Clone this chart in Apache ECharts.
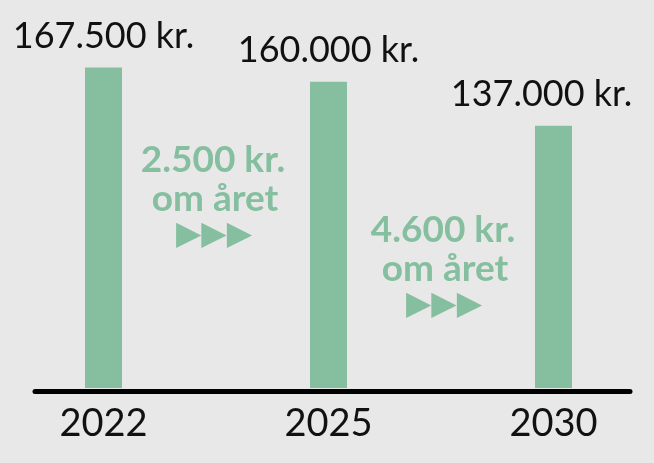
<!DOCTYPE html>
<html>
<head>
<meta charset="utf-8">
<script src="https://cdn.jsdelivr.net/npm/echarts@6/dist/echarts.min.js"></script>
<style>
  html, body { margin: 0; padding: 0; background: #e8e8e8; }
  #chart { width: 654px; height: 463px; }
</style>
</head>
<body>
<div id="chart"></div>
<script>
// data
var years = ['2022', '2025', '2030'];
var prices = [167500, 160000, 137000];
var perYear = [2500, 4600];          // fald pr. år mellem søjlerne
var perYearText = 'om året';

var green = '#85bfa0';

function kr(v) {
    return String(v).replace(/\B(?=(\d{3})+(?!\d))/g, '.') + ' kr.';
}

// sidste label skubbes lidt til venstre så den ikke ryger ud af billedet
var labelShift = [0, 0, -12];

var barData = prices.map(function (v, i) {
    return { value: v, label: { offset: [labelShift[i], 0] } };
});

// annoteringer mellem søjlerne
var notePos = [[213, 160], [443, 230]];
var graphics = [];
perYear.forEach(function (v, i) {
    var x = notePos[i][0], y = notePos[i][1];
    graphics.push({
        type: 'text', x: x, y: y,
        style: { text: kr(v), fill: green, font: 'bold 37px Lato',
                 textAlign: 'center', textVerticalAlign: 'middle' }
    });
    graphics.push({
        type: 'text', x: x + 2, y: y + 39,
        style: { text: perYearText, fill: green, font: 'bold 37px Lato',
                 textAlign: 'center', textVerticalAlign: 'middle' }
    });
    graphics.push({
        type: 'text', x: x + 1, y: y + 75,
        style: { text: '▶▶▶', fill: green, font: '33px "DejaVu Sans"',
                 textAlign: 'center', textVerticalAlign: 'middle' }
    });
});

var option = {
    backgroundColor: '#e8e8e8',
    animation: false,
    grid: [
        { left: -9, width: 675, top: 5.3, bottom: 75, containLabel: false, outerBoundsMode: 'none' },
        { left: 35, right: 24, top: 390, height: 1, outerBoundsMode: 'none' }   // kun til den sorte baseline
    ],
    xAxis: [
        {
            type: 'category',
            data: years,
            axisLine: { show: false },
            axisTick: { show: false },
            axisLabel: { color: '#111', fontFamily: 'Lato', fontSize: 38, margin: 17 }
        },
        {
            gridIndex: 1, type: 'value', min: 0, max: 1,
            axisLine: { show: true, lineStyle: { color: '#000', width: 5 } },
            axisTick: { show: false }, axisLabel: { show: false }, splitLine: { show: false }
        }
    ],
    yAxis: [
        { type: 'value', min: 0, max: 200000, show: false },
        { gridIndex: 1, type: 'value', show: false }
    ],
    series: [{
        type: 'bar',
        data: barData,
        barWidth: 37,
        itemStyle: { color: green },
        label: {
            show: true,
            position: 'top',
            distance: 13,
            color: '#111',
            fontFamily: 'Lato',
            fontSize: 36,
            formatter: function (p) { return kr(p.value); }
        }
    }],
    graphic: graphics
};

var myChart = echarts.init(document.getElementById('chart'));
myChart.setOption(option);
</script>
</body>
</html>
